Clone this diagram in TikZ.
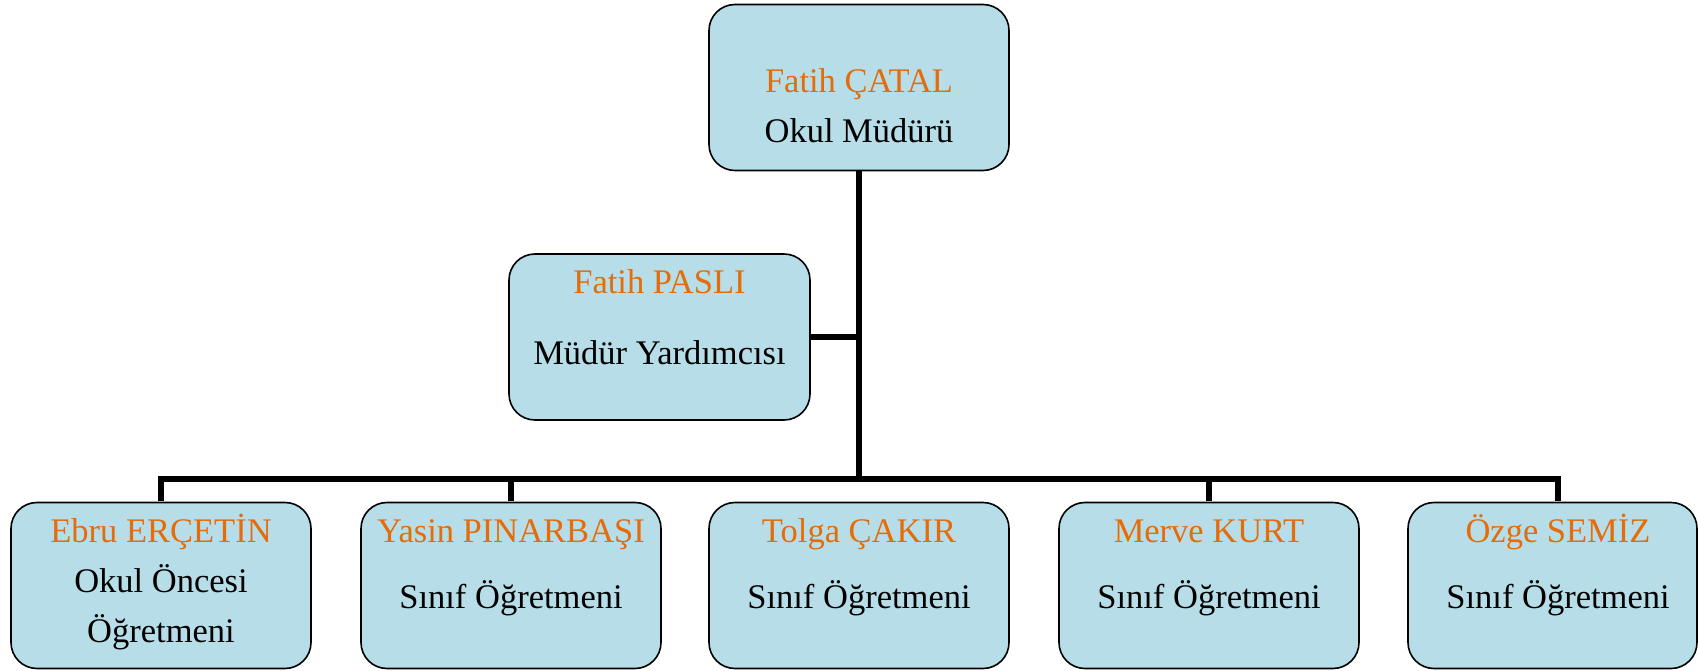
\documentclass[tikz,border=0pt]{standalone}
\usepackage{fontspec}
\setmainfont{Liberation Serif}
\definecolor{boxfill}{HTML}{B7DEE8}
\definecolor{nameor}{HTML}{E46C0A}
\begin{document}
\begin{tikzpicture}[x=1pt,y=-1pt,
  card/.style={draw=black,line width=1.6pt,fill=boxfill,rounded corners=26pt,
    minimum width=300pt,minimum height=166pt,inner sep=0pt,anchor=center},
  nm/.style={anchor=base,text=nameor,font=\fontsize{34.5}{40}\selectfont,inner sep=0pt},
  rl/.style={anchor=base,text=black,font=\fontsize{34.5}{40}\selectfont,inner sep=0pt},
  link/.style={line width=6pt,line join=miter,draw=black}]
\useasboundingbox (0,0) rectangle (1698,671);
% boxes
\node[card] (top) at (859,87.5) {};
\node[card,minimum width=301pt] (asst) at (659.5,337) {};
\node[card] (b1) at (161,585.5) {};
\node[card] (b2) at (511,585.5) {};
\node[card] (b3) at (859,585.5) {};
\node[card] (b4) at (1209,585.5) {};
\node[card,minimum width=289pt] (b5) at (1552.5,585.5) {};
% connectors
\coordinate (busc) at (859,479);
\draw[link] (top.south) -- (busc);
\draw[link] ([yshift=0.8pt]b1.north) |- (busc) -| ([xshift=5.5pt,yshift=0.8pt]b5.north);
\draw[link] ([yshift=0.8pt]b2.north) -- (b2.north |- busc);
\draw[link] ([yshift=0.8pt]b4.north) -- (b4.north |- busc);
\draw[link] (asst.east) -- (asst.east -| top.south);
% texts
\node[nm] (t1) at (859,93) {Fatih ÇATAL};
\node[rl] (t2) at (859,143) {Okul Müdürü};
\node[nm] (a1) at (659.5,293) {Fatih PASLI};
\node[rl] (a2) at (659.5,364) {Müdür Yardımcısı};
\node[nm] (n1) at (161,542) {Ebru ERÇETİN};
\node[rl] (r1a) at (161,592) {Okul Öncesi};
\node[rl] (r1b) at (161,642) {Öğretmeni};
\node[nm] (n2) at (511,542) {Yasin PINARBAŞI};
\node[rl] (r2) at (511,608) {Sınıf Öğretmeni};
\node[nm] (n3) at (859,542) {Tolga ÇAKIR};
\node[rl] (r3) at (859,608) {Sınıf Öğretmeni};
\node[nm] (n4) at (1209,542) {Merve KURT};
\node[rl] (r4) at (1209,608) {Sınıf Öğretmeni};
\node[nm] (n5) at (1558,542) {Özge SEMİZ};
\node[rl] (r5) at (1558,608) {Sınıf Öğretmeni};
\end{tikzpicture}
\end{document}
